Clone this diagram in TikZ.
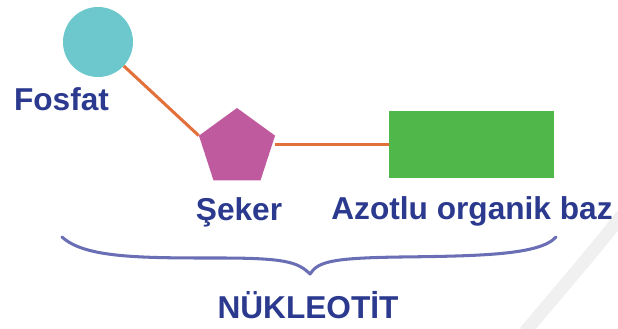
\documentclass[tikz,border=0pt]{standalone}
\usepackage{fontspec}
\setmainfont{Liberation Sans}
\usetikzlibrary{shapes.geometric}
\definecolor{txtblue}{HTML}{2B3A8E}
\definecolor{linkor}{HTML}{E2703A}
\definecolor{fosc}{HTML}{6CC8CC}
\definecolor{sugc}{HTML}{C05A9E}
\definecolor{basec}{HTML}{50B84A}
\definecolor{bracec}{HTML}{6A6EB4}
\tikzset{
  lbl/.style={font=\fontsize{27}{30}\selectfont\bfseries, text=txtblue, inner sep=0pt, anchor=base},
  link/.style={draw=linkor, line width=2.6pt},
}
\begin{document}
\begin{tikzpicture}[x=0.03cm,y=-0.03cm]
\useasboundingbox (0,0) rectangle (618,328);
% faint watermark arc
\draw[black!6, line width=11pt] (525,332) .. controls (560,290) and (595,250) .. (622,215);
\node[circle, fill=fosc, minimum size=70*0.03cm, inner sep=0pt] (fos) at (98,42) {};
\node[regular polygon, regular polygon sides=5, fill=sugc, minimum size=80*0.03cm, inner sep=0pt] (sug) at (237,148) {};
\node[rectangle, fill=basec, minimum width=165*0.03cm, minimum height=67*0.03cm, inner sep=0pt] (base) at (471.5,144.5) {};
\draw[link] (fos) -- (sug.corner 2);
\draw[link] (sug.corner 5 |- base.west) -- (base.west);
\node[lbl] (tf) at (61.5,110) {Fosfat};
\node[lbl] (ts) at (239,220) {Şeker};
\node[lbl] (tb) at (472,219) {Azotlu organik baz};
\node[lbl] (tn) at (308,318) {NÜKLEOTİT};
\coordinate (bl) at (62,237);
\coordinate (btip) at (310,274);
\coordinate (br) at (556,237);
\draw[bracec, line width=2.6pt, line cap=round, line join=round]
  (bl) .. controls (85,258) and (140,258) .. (220,258)
  .. controls (285,258) and (298,262) .. (btip)
  .. controls (318,262) and (330,258) .. (400,257)
  .. controls (480,256) and (540,255) .. (br);
\end{tikzpicture}
\end{document}
